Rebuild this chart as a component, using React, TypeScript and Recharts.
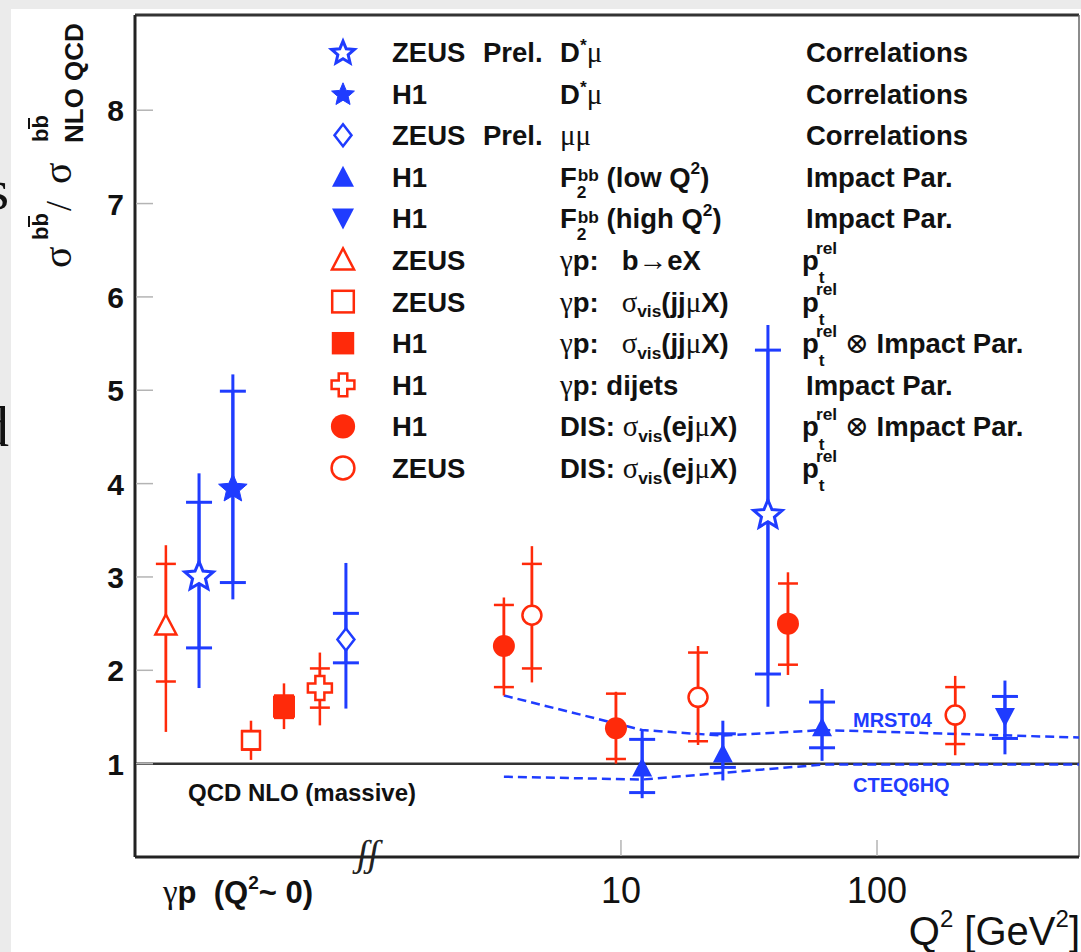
import React from "react";
import {
  ComposedChart,
  Scatter,
  Line,
  XAxis,
  YAxis,
  ErrorBar,
  ReferenceLine,
} from "recharts";

const BLUE = "#1f3cff";
const RED = "#ff2a0a";
const SANS = "Liberation Sans, Arial, Helvetica, sans-serif";
const GREEKFONT = "Liberation Serif, DejaVu Serif, serif";

// x positions are Q^2 in GeV^2; the photoproduction points (Q^2 ~ 0) sit in
// the panel left of the axis break, their q2 is just the slot in that panel.
// errors are [down, up]

// ZEUS Prel. D*mu correlations
const zeusDstarQ2 = [0.225, 37.5];
const zeusDstarR = [3.02, 3.68];
const zeusDstarStat = [[0.78, 0.78], [1.72, 1.75]];
const zeusDstarTot = [[1.21, 1.09], [2.07, 2.02]];

// H1 D*mu correlations
const h1DstarQ2 = [0.305];
const h1DstarR = [3.96];
const h1DstarStat = [[1.02, 1.03]];
const h1DstarTot = [[1.2, 1.21]];

// ZEUS Prel. mumu
const zeusMuMuQ2 = [0.843];
const zeusMuMuR = [2.33];
const zeusMuMuStat = [[0.25, 0.28]];
const zeusMuMuTot = [[0.74, 0.82]];

// H1 F2bb low Q2
const h1F2LowQ2 = [12.1, 25, 61];
const h1F2LowR = [0.96, 1.11, 1.39];
const h1F2LowStat = [[0.27, 0.3], [0.15, 0.21], [0.22, 0.27]];
const h1F2LowTot = [[0.33, 0.4], [0.29, 0.35], [0.36, 0.41]];

// H1 F2bb high Q2
const h1F2HighQ2 = [316];
const h1F2HighR = [1.5];
const h1F2HighStat = [[0.23, 0.22]];
const h1F2HighTot = [[0.4, 0.39]];

// ZEUS gp b->eX
const zeusEXQ2 = [0.167];
const zeusEXR = [2.48];
const zeusEXStat = [[0.6, 0.66]];
const zeusEXTot = [[1.14, 0.86]];

// ZEUS gp sigma_vis(jjmuX)
const zeusJJQ2 = [0.359];
const zeusJJR = [1.25];
const zeusJJStat = [[0.1, 0.1]];
const zeusJJTot = [[0.21, 0.21]];

// H1 gp sigma_vis(jjmuX)
const h1JJQ2 = [0.483];
const h1JJR = [1.61];
const h1JJStat = [[0.12, 0.12]];
const h1JJTot = [[0.24, 0.25]];

// H1 gp dijets
const h1DijQ2 = [0.667];
const h1DijR = [1.81];
const h1DijStat = [[0.21, 0.21]];
const h1DijTot = [[0.4, 0.38]];

// H1 DIS sigma_vis(ejmuX)
const h1DisQ2 = [3.49, 9.56, 44.9];
const h1DisR = [2.26, 1.38, 2.5];
const h1DisStat = [[0.44, 0.44], [0.33, 0.37], [0.44, 0.43]];
const h1DisTot = [[0.53, 0.52], [0.38, 0.39], [0.55, 0.55]];

// ZEUS DIS sigma_vis(ejmuX)
const zeusDisQ2 = [4.49, 20.0, 202];
const zeusDisR = [2.59, 1.71, 1.52];
const zeusDisStat = [[0.57, 0.55], [0.47, 0.48], [0.31, 0.3]];
const zeusDisTot = [[0.72, 0.74], [0.51, 0.55], [0.43, 0.42]];

// NLO predictions
const mrstQ2 = [3.49, 12.1, 25, 61, 615];
const mrstR = [1.73, 1.36, 1.3, 1.36, 1.28];
const cteqQ2 = [3.49, 12.1, 61, 615];
const cteqR = [0.86, 0.83, 0.99, 0.99];

const yTicks = [1, 2, 3, 4, 5, 6, 7, 8];
const xTicks = [10, 100];

const rows = (q2: number[], r: number[], stat: number[][], tot: number[][]) =>
  q2.map((q, i) => ({ q2: q, r: r[i], stat: stat[i], tot: tot[i] }));

// ^[a]{..} superscript raised a*fs, _[a]{..} subscript lowered a*fs
const series = [
  { exp: "ZEUS", prel: true, chan: "D^[0.4]{*}μ", meth: "Correlations", kind: "starOpen", color: BLUE, data: rows(zeusDstarQ2, zeusDstarR, zeusDstarStat, zeusDstarTot) },
  { exp: "H1", prel: false, chan: "D^[0.4]{*}μ", meth: "Correlations", kind: "star", color: BLUE, data: rows(h1DstarQ2, h1DstarR, h1DstarStat, h1DstarTot) },
  { exp: "ZEUS", prel: true, chan: "μμ", meth: "Correlations", kind: "diamondOpen", color: BLUE, data: rows(zeusMuMuQ2, zeusMuMuR, zeusMuMuStat, zeusMuMuTot) },
  { exp: "H1", prel: false, chan: "F_[0.42]{2}^[0.2]{bb} (low Q^[0.45]{2})", meth: "Impact Par.", kind: "triUp", color: BLUE, data: rows(h1F2LowQ2, h1F2LowR, h1F2LowStat, h1F2LowTot) },
  { exp: "H1", prel: false, chan: "F_[0.42]{2}^[0.2]{bb} (high Q^[0.45]{2})", meth: "Impact Par.", kind: "triDown", color: BLUE, data: rows(h1F2HighQ2, h1F2HighR, h1F2HighStat, h1F2HighTot) },
  { exp: "ZEUS", prel: false, chan: "γp:   b→eX", meth: "p_[0.48]{t}^[0.6]{rel}", kind: "triOpen", color: RED, data: rows(zeusEXQ2, zeusEXR, zeusEXStat, zeusEXTot) },
  { exp: "ZEUS", prel: false, chan: "γp:   σ_[0.2]{vis}(jjμX)", meth: "p_[0.48]{t}^[0.6]{rel}", kind: "squareOpen", color: RED, data: rows(zeusJJQ2, zeusJJR, zeusJJStat, zeusJJTot) },
  { exp: "H1", prel: false, chan: "γp:   σ_[0.2]{vis}(jjμX)", meth: "p_[0.48]{t}^[0.6]{rel} ⊗ Impact Par.", kind: "square", color: RED, data: rows(h1JJQ2, h1JJR, h1JJStat, h1JJTot) },
  { exp: "H1", prel: false, chan: "γp: dijets", meth: "Impact Par.", kind: "crossOpen", color: RED, data: rows(h1DijQ2, h1DijR, h1DijStat, h1DijTot) },
  { exp: "H1", prel: false, chan: "DIS: σ_[0.2]{vis}(ejμX)", meth: "p_[0.48]{t}^[0.6]{rel} ⊗ Impact Par.", kind: "circle", color: RED, data: rows(h1DisQ2, h1DisR, h1DisStat, h1DisTot) },
  { exp: "ZEUS", prel: false, chan: "DIS: σ_[0.2]{vis}(ejμX)", meth: "p_[0.48]{t}^[0.6]{rel}", kind: "circleOpen", color: RED, data: rows(zeusDisQ2, zeusDisR, zeusDisStat, zeusDisTot) },
];

const legendScale: Record<string, number> = {
  starOpen: 0.8,
  star: 0.8,
  diamondOpen: 1,
  triUp: 1.1,
  triDown: 1.1,
  triOpen: 1.05,
  squareOpen: 1.2,
  square: 1.02,
  crossOpen: 0.95,
  circle: 1.1,
  circleOpen: 1.2,
};

const mrst = mrstQ2.map((q, i) => ({ q2: q, r: mrstR[i] }));
const cteq = cteqQ2.map((q, i) => ({ q2: q, r: cteqR[i] }));

function starPath(cx: number, cy: number, R: number, r: number) {
  let d = "";
  for (let i = 0; i < 10; i++) {
    const a = -Math.PI / 2 + (i * Math.PI) / 5;
    const rad = i % 2 === 0 ? R : r;
    d += (i ? "L" : "M") + (cx + rad * Math.cos(a)).toFixed(2) + "," + (cy + rad * Math.sin(a)).toFixed(2);
  }
  return d + "Z";
}

function Marker({ kind, cx, cy, color, s = 1 }: any) {
  switch (kind) {
    case "starOpen":
      return <path d={starPath(cx, cy + 1.5 * s, 15 * s, 6.8 * s)} fill="#fff" stroke={color} strokeWidth={3} />;
    case "star":
      return <path d={starPath(cx, cy + 1.5 * s, 15 * s, 6.8 * s)} fill={color} stroke={color} strokeWidth={1} />;
    case "diamondOpen":
      return <path d={`M${cx},${cy - 11 * s}L${cx + 8.5 * s},${cy}L${cx},${cy + 11 * s}L${cx - 8.5 * s},${cy}Z`} fill="#fff" stroke={color} strokeWidth={2.5} />;
    case "triUp":
      return <path d={`M${cx},${cy - 10 * s}L${cx + 10 * s},${cy + 9 * s}L${cx - 10 * s},${cy + 9 * s}Z`} fill={color} />;
    case "triDown":
      return <path d={`M${cx},${cy + 10 * s}L${cx + 10 * s},${cy - 9 * s}L${cx - 10 * s},${cy - 9 * s}Z`} fill={color} />;
    case "triOpen":
      return <path d={`M${cx},${cy - 11 * s}L${cx + 10.5 * s},${cy + 9 * s}L${cx - 10.5 * s},${cy + 9 * s}Z`} fill="#fff" stroke={color} strokeWidth={2.5} />;
    case "squareOpen":
      return <rect x={cx - 9 * s} y={cy - 9 * s} width={18 * s} height={18 * s} fill="#fff" stroke={color} strokeWidth={2.5} />;
    case "square":
      return <rect x={cx - 11 * s} y={cy - 11 * s} width={22 * s} height={22 * s} fill={color} />;
    case "crossOpen": {
      const L = 12 * s;
      const a = 4.5 * s;
      const pts = [[-a, -L], [a, -L], [a, -a], [L, -a], [L, a], [a, a], [a, L], [-a, L], [-a, a], [-L, a], [-L, -a], [-a, -a]];
      return <path d={"M" + pts.map((p) => `${cx + p[0]},${cy + p[1]}`).join("L") + "Z"} fill="#fff" stroke={color} strokeWidth={2.5} />;
    }
    case "circle":
      return <circle cx={cx} cy={cy} r={11 * s} fill={color} />;
    case "circleOpen":
      return <circle cx={cx} cy={cy} r={9.5 * s} fill="#fff" stroke={color} strokeWidth={2.5} />;
  }
  return null;
}

// tiny markup renderer for the legend texts
function rich(src: string, fs: number) {
  const out: any[] = [];
  let k = 0;
  let shift = 0;
  let prevSub = 0;
  const small = fs * 0.63;
  let i = 0;
  const isG = (ch: string) => /[γσμ⊗→]/.test(ch);
  while (i < src.length) {
    const c = src[i];
    if ((c === "^" || c === "_") && (src[i + 1] === "{" || src[i + 1] === "[")) {
      let amt = c === "^" ? 0.45 : 0.38;
      let j = i + 1;
      if (src[j] === "[") {
        const close = src.indexOf("]", j);
        amt = parseFloat(src.slice(j + 1, close));
        j = close + 1;
      }
      const end = src.indexOf("}", j);
      const inner = src.slice(j + 1, end);
      const target = c === "^" ? -fs * amt : fs * amt;
      out.push(
        <tspan key={k++} dy={target - shift} dx={c === "^" && prevSub ? -prevSub : 0} fontSize={small}>
          {inner}
        </tspan>
      );
      shift = target;
      prevSub = c === "_" ? inner.length * small * 0.5 : 0;
      i = end + 1;
      continue;
    }
    let j = i;
    const greek = isG(c);
    while (j < src.length && src[j] !== "^" && src[j] !== "_" && isG(src[j]) === greek) j++;
    out.push(
      <tspan
        key={k++}
        dy={-shift}
        fontFamily={greek ? GREEKFONT : undefined}
        fontWeight={greek ? "normal" : undefined}
        fontSize={greek ? fs * 1.05 : undefined}
      >
        {src.slice(i, j)}
      </tspan>
    );
    shift = 0;
    prevSub = 0;
    i = j;
  }
  return out;
}

function YTick({ x, y, payload }: any) {
  return (
    <g>
      <line x1={x + 1} x2={x + 18} y1={y} y2={y} stroke="#b4b4b4" strokeWidth={1.5} />
      <text x={x - 11} y={y + 11} textAnchor="end" fontFamily={SANS} fontWeight="bold" fontSize={30} fill="#111">
        {payload.value}
      </text>
    </g>
  );
}

function XTick({ x, y, payload }: any) {
  return (
    <g>
      <line x1={x} x2={x} y1={y - 1} y2={y - 17} stroke="#b4b4b4" strokeWidth={1.5} />
      <text x={x} y={y + 46} textAnchor="middle" fontFamily={SANS} fontSize={36} fill="#111">
        {payload.value}
      </text>
    </g>
  );
}

const legendX = 343;
const legendY0 = 62;
const legendDy = 41.6;
const fs = 27.5;

export default function App() {
  return (
    <div style={{ position: "absolute", left: 0, top: 0, width: 1081, height: 952, background: "#ebebeb", overflow: "hidden" }}>
      <div style={{ position: "absolute", left: 11, top: 9, width: 1070, height: 943, background: "#fff" }} />
      <div style={{ position: "absolute", left: 0, top: 0 }}>
        <ComposedChart width={1081} height={952} margin={{ top: 15, right: 2, bottom: 0, left: 0 }}>
          <XAxis
            dataKey="q2"
            type="number"
            scale="log"
            domain={[0.1265, 615]}
            allowDataOverflow
            ticks={xTicks}
            tick={<XTick />}
            tickLine={false}
            tickSize={0}
            tickMargin={0}
            height={95}
            axisLine={{ stroke: "#222", strokeWidth: 3 }}
          />
          <YAxis
            dataKey="r"
            type="number"
            domain={[0, 9.02]}
            allowDataOverflow
            ticks={yTicks}
            tick={<YTick />}
            tickLine={false}
            tickSize={0}
            tickMargin={0}
            width={135}
            axisLine={{ stroke: "#222", strokeWidth: 3 }}
          />
          <ReferenceLine y={9.02} stroke="#333" strokeWidth={3} />
          <ReferenceLine x={615} stroke="#666" strokeWidth={1.5} />
          <ReferenceLine y={1} stroke="#333" strokeWidth={2.5} />
          <Line data={mrst} dataKey="r" stroke={BLUE} strokeWidth={2.5} strokeDasharray="9 5" dot={false} isAnimationActive={false} />
          <Line data={cteq} dataKey="r" stroke={BLUE} strokeWidth={2.5} strokeDasharray="9 5" dot={false} isAnimationActive={false} />
          {series.map((s, idx) => (
            <Scatter
              key={idx}
              data={s.data}
              dataKey="r"
              isAnimationActive={false}
              shape={(p: any) => <Marker kind={s.kind} cx={p.cx} cy={p.cy} color={s.color} />}
            >
              <ErrorBar dataKey="tot" direction="y" width={0} stroke={s.color} strokeWidth={s.color === BLUE ? 3 : 2.5} />
              <ErrorBar dataKey="stat" direction="y" width={s.color === BLUE ? 13 : 10} stroke={s.color} strokeWidth={s.color === BLUE ? 3 : 2.5} />
            </Scatter>
          ))}
        </ComposedChart>
      </div>
      <svg width={1081} height={952} style={{ position: "absolute", left: 0, top: 0, pointerEvents: "none" }}>
        {/* bits of the surrounding page text */}
        <text x={9} y={209} textAnchor="end" fontFamily={GREEKFONT} fontSize={58} fill="#111">s</text>
        <text x={9} y={446} textAnchor="end" fontFamily={GREEKFONT} fontSize={58} fill="#111">d</text>

        {/* y axis title */}
        <g transform="translate(71,268) rotate(-90)" fill="#111" fontFamily={SANS}>
          <text x={0} y={0} fontFamily={GREEKFONT} fontSize={40}>σ</text>
          <text x={28} y={-23} fontWeight="bold" fontSize={22}>bb</text>
          <line x1={41} x2={52} y1={-42} y2={-42} stroke="#111" strokeWidth={2} />
          <text x={57} y={0} fontFamily={GREEKFONT} fontSize={36}>/</text>
          <text x={84} y={0} fontFamily={GREEKFONT} fontSize={40}>σ</text>
          <text x={126} y={-23} fontWeight="bold" fontSize={22}>bb</text>
          <line x1={139} x2={150} y1={-42} y2={-42} stroke="#111" strokeWidth={2} />
          <text x={125} y={12} fontWeight="bold" fontSize={26}>NLO QCD</text>
        </g>

        {/* legend */}
        {series.map((s, i) => {
          const by = legendY0 + i * legendDy;
          return (
            <g key={i} fontFamily={SANS} fontWeight="bold" fontSize={fs} fill="#111">
              <Marker kind={s.kind} cx={legendX} cy={by - 10} color={s.color} s={legendScale[s.kind]} />
              <text x={392} y={by}>{s.exp}</text>
              {s.prel && <text x={483} y={by}>Prel.</text>}
              <text x={560} y={by} xmlSpace="preserve">{rich(s.chan, fs)}</text>
              <text x={s.meth.startsWith("p") ? 802 : 806} y={by} xmlSpace="preserve">{rich(s.meth, fs)}</text>
            </g>
          );
        })}

        <text x={188} y={801} fontFamily={SANS} fontWeight="bold" fontSize={24} fill="#111">QCD NLO (massive)</text>
        <text x={853} y={727} fontFamily={SANS} fontWeight="bold" fontSize={20} fill={BLUE}>MRST04</text>
        <text x={853} y={792} fontFamily={SANS} fontWeight="bold" fontSize={20} fill={BLUE}>CTEQ6HQ</text>

        {/* axis break */}
        <text x={368} y={866} textAnchor="middle" fontFamily={GREEKFONT} fontStyle="italic" fontSize={38} fill="#222">ʃʃ</text>

        <text x={163} y={903} fontFamily={SANS} fontWeight="bold" fontSize={31} fill="#111" xmlSpace="preserve">
          <tspan fontFamily={GREEKFONT} fontWeight="normal" fontSize={33}>γ</tspan>
          <tspan>p  (Q</tspan>
          <tspan dy={-14} fontSize={19}>2</tspan>
          <tspan dy={14}>~ 0)</tspan>
        </text>
        <text x={1080} y={945} textAnchor="end" fontFamily={SANS} fontSize={40} fill="#111" xmlSpace="preserve">
          <tspan>Q</tspan>
          <tspan dy={-18} fontSize={24}>2</tspan>
          <tspan dy={18}> [GeV</tspan>
          <tspan dy={-18} fontSize={24}>2</tspan>
          <tspan dy={18}>]</tspan>
        </text>
      </svg>
    </div>
  );
}
